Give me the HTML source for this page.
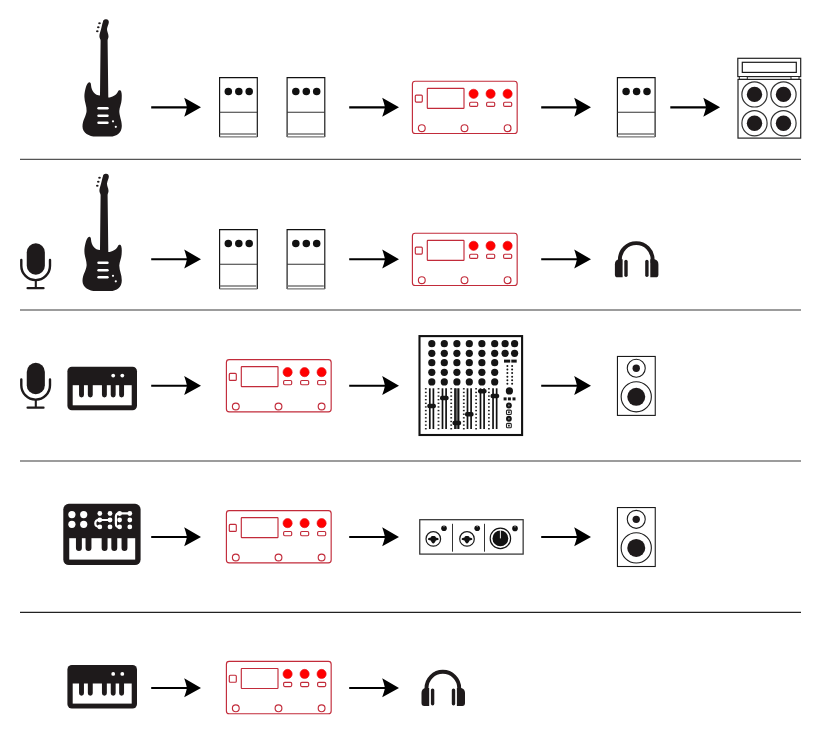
<!DOCTYPE html>
<html><head><meta charset="utf-8">
<style>
html,body{margin:0;padding:0;background:#fff;}
body{width:821px;height:737px;overflow:hidden;font-family:"Liberation Sans",sans-serif;}
svg{display:block;}
</style></head>
<body>
<svg width="821" height="737" viewBox="0 0 821 737">
<defs>
  <!-- arrow: origin at line start, y center -->
  <g id="arrow">
    <line x1="0" y1="0.08" x2="36" y2="0.08" stroke="#000" stroke-width="2.15"/>
    <path d="M49.8 0 L33 -9.65 Q34.9 -4.2 35.8 0 Q34.9 4.2 33 9.3 Z" fill="#000"/>
  </g>
  <!-- pedal: origin top-left -->
  <g id="pedal" fill="none">
    <rect x="0.3" y="0.26" width="37.7" height="59.37" fill="#fff" stroke="none"/>
    <path d="M0.3 59.63 V0.26 H38 V59.63" stroke="#111" stroke-width="1.15"/>
    <line x1="0.3" y1="59.63" x2="38" y2="59.63" stroke="#777" stroke-width="1.15"/>
    <line x1="0.3" y1="35" x2="38" y2="35" stroke="#333" stroke-width="1.1"/>
    <line x1="0.5" y1="56.64" x2="37" y2="56.64" stroke="#777" stroke-width="1.4"/>
    <circle cx="9" cy="14.1" r="3.75" fill="#111"/>
    <circle cx="19.5" cy="14.1" r="3.75" fill="#111"/>
    <circle cx="29.9" cy="14.1" r="3.75" fill="#111"/>
  </g>
  <!-- red multi-effects unit -->
  <g id="redunit" fill="none" stroke="#c22b3a" stroke-width="1.15">
    <rect x="0.1" y="0.14" width="104.77" height="52.3" rx="2.8"/>
    <rect x="3" y="14" width="7" height="7" rx="1"/>
    <rect x="15" y="7.2" width="36.7" height="20" rx="0.6"/>
    <circle cx="61.3" cy="12.7" r="4.6" fill="#f00" stroke="#e0101a" stroke-width="0.6"/>
    <circle cx="78.3" cy="12.7" r="4.6" fill="#f00" stroke="#e0101a" stroke-width="0.6"/>
    <circle cx="95.3" cy="12.7" r="4.6" fill="#f00" stroke="#e0101a" stroke-width="0.6"/>
    <rect x="57.3" y="21.1" width="8.1" height="4.2" rx="1.2"/>
    <rect x="74.3" y="21.1" width="8.1" height="4.2" rx="1.2"/>
    <rect x="91.3" y="21.1" width="8.1" height="4.2" rx="1.2"/>
    <circle cx="9.5" cy="47.05" r="3.4"/>
    <circle cx="52.2" cy="47.05" r="3.4"/>
    <circle cx="95.3" cy="47.05" r="3.4"/>
  </g>
  <!-- guitar (absolute coords for row 1) -->
  <g id="guitar">
    <path fill="#1e1a1b" d="M102.9 22 A2.95 2.95 0 0 1 108.8 22.6 C108.6 24.8 107.3 26.5 107 29 C106.9 31.5 108.4 33.5 108.5 36.2 C108.6 38 107.6 39 107.6 40.5 L108.3 97.5 C112 97.5 116.5 95 118 91.5 C118.5 90 120.5 89.5 121.2 91.5 C122 94 121.8 97 121.6 100 C121.4 104 119.5 107 119.3 111 C119.2 116 121.8 120 121.8 126 C121.8 132.5 117 136.6 110 136.6 L96 136.6 C89 136.6 82.5 133 82.5 126.5 C82.5 120 86.3 116 86.6 111 C86.9 106 84.4 102 84.4 97 C84.4 92 86 85 88 83 C89.5 81.5 91 82.5 91 85 C91.5 91 95 95.5 100 95.5 L100.6 40.5 C100.6 39 99.4 38 99.4 36.2 C99.4 34 100.4 31.5 101.2 28.5 C101.8 26 102.3 23.5 102.9 22 Z"/>
    <rect x="97.3" y="107.1" width="11.4" height="2.4" rx="1.2" fill="#fff"/>
    <rect x="97.3" y="114.5" width="11.4" height="2.4" rx="1.2" fill="#fff"/>
    <rect x="97.3" y="121.5" width="11.4" height="2.4" rx="1.2" fill="#fff"/>
    <circle cx="113" cy="121.3" r="1.1" fill="#fff"/>
    <circle cx="115.8" cy="126.8" r="1.1" fill="#fff"/>
    <ellipse cx="99.5" cy="23.3" rx="1.3" ry="0.95" fill="#1e1a1b"/>
    <ellipse cx="98.3" cy="27.2" rx="1.3" ry="0.95" fill="#1e1a1b"/>
    <ellipse cx="97.3" cy="31.3" rx="1.3" ry="0.95" fill="#1e1a1b"/>
  </g>
  <!-- headphones (absolute row 2) -->
  <g id="headphones" fill="#1e1a1b">
    <path d="M619.9 263 L619.9 259.5 A16.35 16.35 0 0 1 652.6 259.5 L652.6 263" fill="none" stroke="#1e1a1b" stroke-width="3.9"/>
    <path d="M622.6 259.3 L622.6 277.3 L617.6 277.3 Q614.9 277.3 614.9 274.4 L614.9 264.5 Q614.9 260.2 618.5 259.3 Z"/>
    <rect x="624.3" y="259.8" width="3.4" height="17.1" rx="1.7"/>
    <rect x="645.2" y="259.8" width="3.4" height="17.1" rx="1.7"/>
    <path d="M650.3 259.3 L650.3 277.3 L655.7 277.3 Q658.4 277.3 658.4 274.4 L658.4 264.5 Q658.4 260.2 654.6 259.3 Z"/>
  </g>
  <!-- mic (absolute row 2) -->
  <g id="mic">
    <rect x="26.76" y="243.35" width="18.1" height="31.35" rx="9.05" fill="#1e1a1b"/>
    <path d="M21.3 259.9 L21.3 265.8 A14.35 14.35 0 0 0 50 265.8 L50 259.9" fill="none" stroke="#1e1a1b" stroke-width="2.4" stroke-linecap="round"/>
    <line x1="35.8" y1="279.5" x2="35.8" y2="288" stroke="#1e1a1b" stroke-width="2.1"/>
    <line x1="27.6" y1="288.2" x2="43.5" y2="288.2" stroke="#1e1a1b" stroke-width="2.3" stroke-linecap="round"/>
  </g>
  <!-- keyboard (absolute row 3) -->
  <g id="keyboard">
    <rect x="67.4" y="366.7" width="69.6" height="43.5" rx="4.5" fill="#1e1a1b"/>
    <rect x="72.7" y="385.2" width="59" height="20.1" fill="#fff"/>
    <path fill="#1e1a1b" d="M79.05 384 h4.9 v11.05 a2.45 2.45 0 0 1 -4.9 0 Z M87.85 384 h4.9 v11.05 a2.45 2.45 0 0 1 -4.9 0 Z M101.95 384 h4.9 v11.05 a2.45 2.45 0 0 1 -4.9 0 Z M110.75 384 h4.9 v11.05 a2.45 2.45 0 0 1 -4.9 0 Z M119.15 384 h4.9 v11.05 a2.45 2.45 0 0 1 -4.9 0 Z "/>
    <circle cx="113.2" cy="375.6" r="1.9" fill="#fff"/>
    <circle cx="122.3" cy="375.6" r="1.9" fill="#fff"/>
  </g>
  <!-- speaker (absolute row 3) -->
  <g id="speaker" stroke="#1a1a1a" stroke-width="1.1" fill="none">
    <rect x="617.45" y="356.45" width="37.8" height="58.95"/>
    <circle cx="636.25" cy="368.25" r="9"/>
    <circle cx="636.25" cy="368.25" r="3.7" fill="#1e1a1b" stroke="none"/>
    <circle cx="636.25" cy="396.8" r="15.1"/>
    <circle cx="636.25" cy="396.8" r="9" fill="#1e1a1b" stroke="none"/>
  </g>
</defs>

<!-- separators -->
<g stroke-width="1.2">
  <line x1="20" y1="159.3" x2="801" y2="159.3" stroke="#555"/>
  <line x1="20" y1="310" x2="801" y2="310" stroke="#3a3a3a"/>
  <line x1="20" y1="461" x2="801" y2="461" stroke="#3a3a3a"/>
  <line x1="20" y1="612.4" x2="801" y2="612.4" stroke="#222"/>
</g>

<!-- ROW 1 -->
<use href="#guitar"/>
<use href="#pedal" x="219.3" y="77.3"/>
<use href="#pedal" x="286.8" y="77.3"/>
<use href="#redunit" x="412.3" y="81.1"/>
<use href="#pedal" x="617.1" y="77.3"/>
<!-- amp -->
<g stroke="#222" stroke-width="1.2" fill="none">
  <rect x="737.8" y="58.3" width="62.9" height="18.3"/>
  <rect x="742.3" y="62.3" width="54" height="10.1" stroke="#1a1a1a"/>
  <rect x="739.3" y="76.5" width="8" height="2.9" fill="#fff" stroke-width="1"/>
  <rect x="791" y="76.5" width="8" height="2.9" fill="#fff" stroke-width="1"/>
  <rect x="738" y="79.4" width="62.7" height="58.7"/>
  <circle cx="754.5" cy="94.4" r="12.6" stroke="#333"/>
  <circle cx="783.5" cy="94.4" r="12.6" stroke="#333"/>
  <circle cx="754.5" cy="123.2" r="12.6" stroke="#333"/>
  <circle cx="783.5" cy="123.2" r="12.6" stroke="#333"/>
  <g fill="#1e1a1b" stroke="none">
    <circle cx="754.5" cy="94.4" r="7.7"/>
    <circle cx="783.5" cy="94.4" r="7.7"/>
    <circle cx="754.5" cy="123.2" r="7.7"/>
    <circle cx="783.5" cy="123.2" r="7.7"/>
  </g>
</g>

<!-- ROW 2 -->
<use href="#mic"/>
<use href="#guitar" y="154.5"/>
<use href="#pedal" x="219.3" y="229.3"/>
<use href="#pedal" x="286.8" y="229.3"/>
<use href="#redunit" x="412.3" y="233.1"/>
<use href="#headphones"/>

<!-- ROW 3 -->
<use href="#mic" y="119.5"/>
<use href="#keyboard"/>
<use href="#redunit" x="226.3" y="359.44"/>
<!-- MIXER -->
<g id="mixer">
<rect x="419.5" y="336.1" width="102.6" height="98.9" fill="none" stroke="#111" stroke-width="2.1"/>
<g fill="#151515"><circle cx="431.8" cy="343.7" r="3.6"/><circle cx="444.3" cy="343.7" r="3.6"/><circle cx="456.9" cy="343.7" r="3.6"/><circle cx="469.3" cy="343.7" r="3.6"/><circle cx="481.9" cy="343.7" r="3.6"/><circle cx="494.7" cy="343.7" r="3.6"/><circle cx="431.8" cy="353.3" r="3.6"/><circle cx="444.3" cy="353.3" r="3.6"/><circle cx="456.9" cy="353.3" r="3.6"/><circle cx="469.3" cy="353.3" r="3.6"/><circle cx="481.9" cy="353.3" r="3.6"/><circle cx="494.7" cy="353.3" r="3.6"/><circle cx="431.8" cy="362.7" r="3.6"/><circle cx="444.3" cy="362.7" r="3.6"/><circle cx="456.9" cy="362.7" r="3.6"/><circle cx="469.3" cy="362.7" r="3.6"/><circle cx="481.9" cy="362.7" r="3.6"/><circle cx="494.7" cy="362.7" r="3.6"/><circle cx="431.8" cy="372.3" r="3.6"/><circle cx="444.3" cy="372.3" r="3.6"/><circle cx="456.9" cy="372.3" r="3.6"/><circle cx="469.3" cy="372.3" r="3.6"/><circle cx="481.9" cy="372.3" r="3.6"/><circle cx="494.7" cy="372.3" r="3.6"/><circle cx="431.8" cy="381.9" r="3.6"/><circle cx="444.3" cy="381.9" r="3.6"/><circle cx="456.9" cy="381.9" r="3.6"/><circle cx="469.3" cy="381.9" r="3.6"/><circle cx="481.9" cy="381.9" r="3.6"/><circle cx="494.7" cy="381.9" r="3.6"/><circle cx="505.1" cy="343.7" r="3.6"/><circle cx="514.6" cy="343.7" r="3.6"/><circle cx="505.1" cy="353.3" r="3.6"/><circle cx="514.6" cy="353.3" r="3.6"/></g>
<g stroke="#111" stroke-width="1.7"><line x1="429.8" y1="388.3" x2="429.8" y2="429" /><line x1="433.40000000000003" y1="388.3" x2="433.40000000000003" y2="429" /><line x1="442.5" y1="388.3" x2="442.5" y2="429" /><line x1="446.1" y1="388.3" x2="446.1" y2="429" /><rect x="455.1" y="388.3" width="3.4" height="40.7" fill="#666" stroke="none"/><line x1="455.0" y1="388.3" x2="455.0" y2="429" /><line x1="458.6" y1="388.3" x2="458.6" y2="429" /><line x1="467.5" y1="388.3" x2="467.5" y2="429" /><line x1="471.1" y1="388.3" x2="471.1" y2="429" /><line x1="480.5" y1="388.3" x2="480.5" y2="429" /><line x1="484.1" y1="388.3" x2="484.1" y2="429" /><line x1="493.05" y1="388.3" x2="493.05" y2="429" /><line x1="496.65000000000003" y1="388.3" x2="496.65000000000003" y2="429" /></g>
<g fill="#151515"><rect x="427.3" y="403.8" width="8.6" height="4.4" rx="1.8"/><rect x="440.0" y="395.8" width="8.6" height="4.4" rx="1.8"/><rect x="452.5" y="420.8" width="8.6" height="4.4" rx="1.8"/><rect x="465.0" y="412.1" width="8.6" height="4.4" rx="1.8"/><rect x="478.0" y="389.0" width="8.6" height="4.4" rx="1.8"/><rect x="490.55" y="393.8" width="8.6" height="4.4" rx="1.8"/></g>
<g fill="#222"><rect x="424.90000000000003" y="388.1" width="1.8" height="1.4"/><rect x="424.90000000000003" y="391.73" width="1.8" height="1.4"/><rect x="424.90000000000003" y="395.36" width="1.8" height="1.4"/><rect x="424.90000000000003" y="398.99" width="1.8" height="1.4"/><rect x="424.90000000000003" y="402.62" width="1.8" height="1.4"/><rect x="424.90000000000003" y="406.25" width="1.8" height="1.4"/><rect x="424.90000000000003" y="409.88000000000005" width="1.8" height="1.4"/><rect x="424.90000000000003" y="413.51000000000005" width="1.8" height="1.4"/><rect x="424.90000000000003" y="417.14000000000004" width="1.8" height="1.4"/><rect x="424.90000000000003" y="420.77000000000004" width="1.8" height="1.4"/><rect x="424.90000000000003" y="424.40000000000003" width="1.8" height="1.4"/><rect x="424.90000000000003" y="428.03000000000003" width="1.8" height="1.4"/><rect x="437.6" y="388.1" width="1.8" height="1.4"/><rect x="437.6" y="391.73" width="1.8" height="1.4"/><rect x="437.6" y="395.36" width="1.8" height="1.4"/><rect x="437.6" y="398.99" width="1.8" height="1.4"/><rect x="437.6" y="402.62" width="1.8" height="1.4"/><rect x="437.6" y="406.25" width="1.8" height="1.4"/><rect x="437.6" y="409.88000000000005" width="1.8" height="1.4"/><rect x="437.6" y="413.51000000000005" width="1.8" height="1.4"/><rect x="437.6" y="417.14000000000004" width="1.8" height="1.4"/><rect x="437.6" y="420.77000000000004" width="1.8" height="1.4"/><rect x="437.6" y="424.40000000000003" width="1.8" height="1.4"/><rect x="437.6" y="428.03000000000003" width="1.8" height="1.4"/><rect x="450.3" y="388.1" width="1.8" height="1.4"/><rect x="450.3" y="391.73" width="1.8" height="1.4"/><rect x="450.3" y="395.36" width="1.8" height="1.4"/><rect x="450.3" y="398.99" width="1.8" height="1.4"/><rect x="450.3" y="402.62" width="1.8" height="1.4"/><rect x="450.3" y="406.25" width="1.8" height="1.4"/><rect x="450.3" y="409.88000000000005" width="1.8" height="1.4"/><rect x="450.3" y="413.51000000000005" width="1.8" height="1.4"/><rect x="450.3" y="417.14000000000004" width="1.8" height="1.4"/><rect x="450.3" y="420.77000000000004" width="1.8" height="1.4"/><rect x="450.3" y="424.40000000000003" width="1.8" height="1.4"/><rect x="450.3" y="428.03000000000003" width="1.8" height="1.4"/><rect x="462.90000000000003" y="388.1" width="1.8" height="1.4"/><rect x="462.90000000000003" y="391.73" width="1.8" height="1.4"/><rect x="462.90000000000003" y="395.36" width="1.8" height="1.4"/><rect x="462.90000000000003" y="398.99" width="1.8" height="1.4"/><rect x="462.90000000000003" y="402.62" width="1.8" height="1.4"/><rect x="462.90000000000003" y="406.25" width="1.8" height="1.4"/><rect x="462.90000000000003" y="409.88000000000005" width="1.8" height="1.4"/><rect x="462.90000000000003" y="413.51000000000005" width="1.8" height="1.4"/><rect x="462.90000000000003" y="417.14000000000004" width="1.8" height="1.4"/><rect x="462.90000000000003" y="420.77000000000004" width="1.8" height="1.4"/><rect x="462.90000000000003" y="424.40000000000003" width="1.8" height="1.4"/><rect x="462.90000000000003" y="428.03000000000003" width="1.8" height="1.4"/><rect x="475.20000000000005" y="388.1" width="1.8" height="1.4"/><rect x="475.20000000000005" y="391.73" width="1.8" height="1.4"/><rect x="475.20000000000005" y="395.36" width="1.8" height="1.4"/><rect x="475.20000000000005" y="398.99" width="1.8" height="1.4"/><rect x="475.20000000000005" y="402.62" width="1.8" height="1.4"/><rect x="475.20000000000005" y="406.25" width="1.8" height="1.4"/><rect x="475.20000000000005" y="409.88000000000005" width="1.8" height="1.4"/><rect x="475.20000000000005" y="413.51000000000005" width="1.8" height="1.4"/><rect x="475.20000000000005" y="417.14000000000004" width="1.8" height="1.4"/><rect x="475.20000000000005" y="420.77000000000004" width="1.8" height="1.4"/><rect x="475.20000000000005" y="424.40000000000003" width="1.8" height="1.4"/><rect x="475.20000000000005" y="428.03000000000003" width="1.8" height="1.4"/><rect x="488.0" y="388.1" width="1.8" height="1.4"/><rect x="488.0" y="391.73" width="1.8" height="1.4"/><rect x="488.0" y="395.36" width="1.8" height="1.4"/><rect x="488.0" y="398.99" width="1.8" height="1.4"/><rect x="488.0" y="402.62" width="1.8" height="1.4"/><rect x="488.0" y="406.25" width="1.8" height="1.4"/><rect x="488.0" y="409.88000000000005" width="1.8" height="1.4"/><rect x="488.0" y="413.51000000000005" width="1.8" height="1.4"/><rect x="488.0" y="417.14000000000004" width="1.8" height="1.4"/><rect x="488.0" y="420.77000000000004" width="1.8" height="1.4"/><rect x="488.0" y="424.40000000000003" width="1.8" height="1.4"/><rect x="488.0" y="428.03000000000003" width="1.8" height="1.4"/></g>
<g fill="#151515"><rect x="504" y="359.6" width="6.2" height="3"/><rect x="511.3" y="359.6" width="5.4" height="3"/><circle cx="507.4" cy="366" r="1"/><circle cx="512.1" cy="366" r="1"/><circle cx="507.4" cy="369.5" r="1"/><circle cx="512.1" cy="369.5" r="1"/><circle cx="507.4" cy="373" r="1"/><circle cx="512.1" cy="373" r="1"/><circle cx="507.4" cy="376.7" r="1"/><circle cx="512.1" cy="376.7" r="1"/><circle cx="507.4" cy="380.3" r="1"/><circle cx="512.1" cy="380.3" r="1"/><circle cx="507.4" cy="383.8" r="1"/><circle cx="512.1" cy="383.8" r="1"/><circle cx="509.4" cy="390.9" r="3.6"/><rect x="503.6" y="397.4" width="3" height="3"/><rect x="507.9" y="397.4" width="3" height="3"/><rect x="512.5" y="397.4" width="3" height="3"/></g>

<g><circle cx="508.9" cy="405.5" r="2.9" fill="#151515"/><circle cx="508.9" cy="405.5" r="0.9" fill="#777"/>
<circle cx="508.9" cy="418.75" r="2.9" fill="#151515"/><circle cx="508.9" cy="418.75" r="0.9" fill="#777"/>
<rect x="506.5" y="410.1" width="4.8" height="4.4" rx="1" fill="none" stroke="#222" stroke-width="1.1"/><rect x="508" y="411.4" width="1.8" height="1.8" fill="#222"/>
<rect x="506.5" y="423.4" width="4.8" height="4.4" rx="1" fill="none" stroke="#222" stroke-width="1.1"/><rect x="508" y="424.7" width="1.8" height="1.8" fill="#222"/></g>
</g>

<use href="#speaker"/>

<!-- ROW 4 -->
<g id="synth">
<rect x="63.3" y="503.8" width="77.3" height="61.2" rx="5.5" fill="#1e1a1b"/>
<rect x="69.25" y="538.2" width="65.95" height="21.4" fill="#fff"/>
<path fill="#1e1a1b" d="M75.95 537 h5.9 v11.05 a2.95 2.95 0 0 1 -5.9 0 Z M85.55 537 h5.9 v11.05 a2.95 2.95 0 0 1 -5.9 0 Z M101.65 537 h5.9 v11.05 a2.95 2.95 0 0 1 -5.9 0 Z M111.35 537 h5.9 v11.05 a2.95 2.95 0 0 1 -5.9 0 Z M121.55 537 h5.9 v11.05 a2.95 2.95 0 0 1 -5.9 0 Z "/>
<g fill="#fff">
<circle cx="71.9" cy="514.6" r="3.6"/><circle cx="83.7" cy="514.6" r="3.6"/>
<circle cx="71.9" cy="524.3" r="3.6"/><circle cx="83.7" cy="524.3" r="3.6"/>
<circle cx="99.8" cy="513.5" r="2.4"/><circle cx="110" cy="513.5" r="2.4"/><circle cx="119.6" cy="513.5" r="2.4"/><circle cx="129.8" cy="513.5" r="2.4"/><circle cx="99.8" cy="520" r="2.4"/><circle cx="110" cy="520" r="2.4"/><circle cx="119.6" cy="520" r="2.4"/><circle cx="129.8" cy="520" r="2.4"/><circle cx="99.8" cy="526.9" r="2.4"/><circle cx="110" cy="526.9" r="2.4"/><circle cx="119.6" cy="526.9" r="2.4"/><circle cx="129.8" cy="526.9" r="2.4"/>
</g>
<g fill="none" stroke="#fff" stroke-width="2.2" stroke-linecap="round">
<path d="M99.8 520 L110 520"/>
<path d="M99.8 519.8 C96.3 519.6 95.3 521.5 95.3 523.4 C95.3 525.6 96.5 527 99.8 526.9"/>
<path d="M119.6 513.3 L129.8 513.3"/>
<path d="M119.6 513.1 C116.9 513.1 115.9 514.3 115.9 516.8 L115.9 523.8 C115.9 526.4 116.9 527.1 119.6 526.9"/>
</g>
</g>
<use href="#redunit" x="226.3" y="510.44"/>
<g id="iface">
<rect x="419.75" y="519.7" width="103.4" height="34.4" fill="none" stroke="#333" stroke-width="1.25"/>
<line x1="452.5" y1="523.8" x2="452.5" y2="551.7" stroke="#333" stroke-width="1"/>
<line x1="484.5" y1="523.8" x2="484.5" y2="551.7" stroke="#333" stroke-width="1"/>
<circle cx="433.3" cy="538.9" r="7.3" fill="none" stroke="#1a1a1a" stroke-width="1.2"/>
<circle cx="467" cy="538.9" r="7.3" fill="none" stroke="#1a1a1a" stroke-width="1.2"/>
<path fill="#111" transform="translate(433.3 538.9)" d="M-5.4 0.1 C-5.4 -0.9 -3.8 -1.1 -2.8 -1.2 C-2.5 -2.6 -1.4 -3 0 -3 C1.4 -3 2.5 -2.6 2.8 -1.2 C3.8 -1.1 5.4 -0.9 5.4 0.1 C5.4 1.2 3.8 1.3 2.6 1.7 C2 3.1 0.9 4.7 0 4.7 C-0.9 4.7 -2 3.1 -2.6 1.7 C-3.8 1.3 -5.4 1.2 -5.4 0.1 Z"/>
<path fill="#111" transform="translate(467 538.9)" d="M-5.4 0.1 C-5.4 -0.9 -3.8 -1.1 -2.8 -1.2 C-2.5 -2.6 -1.4 -3 0 -3 C1.4 -3 2.5 -2.6 2.8 -1.2 C3.8 -1.1 5.4 -0.9 5.4 0.1 C5.4 1.2 3.8 1.3 2.6 1.7 C2 3.1 0.9 4.7 0 4.7 C-0.9 4.7 -2 3.1 -2.6 1.7 C-3.8 1.3 -5.4 1.2 -5.4 0.1 Z"/>
<circle cx="444" cy="528.2" r="2.8" fill="#111"/>
<circle cx="477.2" cy="528.2" r="2.8" fill="#111"/>
<circle cx="515" cy="528.4" r="2.8" fill="#111"/>
<circle cx="500.4" cy="538.4" r="10.2" fill="none" stroke="#111" stroke-width="1.2"/>
<circle cx="500.4" cy="538.4" r="7.9" fill="#111"/>
<line x1="500.4" y1="530.2" x2="500.4" y2="538.4" stroke="#fff" stroke-width="0.9"/>
<g stroke="#fff" stroke-width="0.6"><line x1="444" y1="525.6" x2="444" y2="527.2"/><line x1="477.2" y1="525.6" x2="477.2" y2="527.2"/><line x1="515" y1="525.8" x2="515" y2="527.4"/></g>
</g>
<use href="#speaker" y="151.1"/>

<!-- ROW 5 -->
<use href="#keyboard" y="298.3"/>
<use href="#redunit" x="226.3" y="661.27"/>
<use href="#headphones" x="-193.4" y="428.6"/>
<!-- arrows -->
<use href="#arrow" x="151.2" y="107.35"/>
<use href="#arrow" x="349.2" y="107.35"/>
<use href="#arrow" x="541.2" y="107.35"/>
<use href="#arrow" x="670.3" y="107.35"/>
<use href="#arrow" x="151.2" y="259.2"/>
<use href="#arrow" x="349.2" y="259.2"/>
<use href="#arrow" x="541.2" y="259.2"/>
<use href="#arrow" x="151.2" y="385.65"/>
<use href="#arrow" x="349.2" y="385.65"/>
<use href="#arrow" x="541.2" y="385.65"/>
<use href="#arrow" x="151.2" y="536.95"/>
<use href="#arrow" x="349.2" y="536.95"/>
<use href="#arrow" x="541.2" y="536.95"/>
<use href="#arrow" x="151.2" y="687.9"/>
<use href="#arrow" x="349.2" y="687.9"/>
</svg>
</body></html>
